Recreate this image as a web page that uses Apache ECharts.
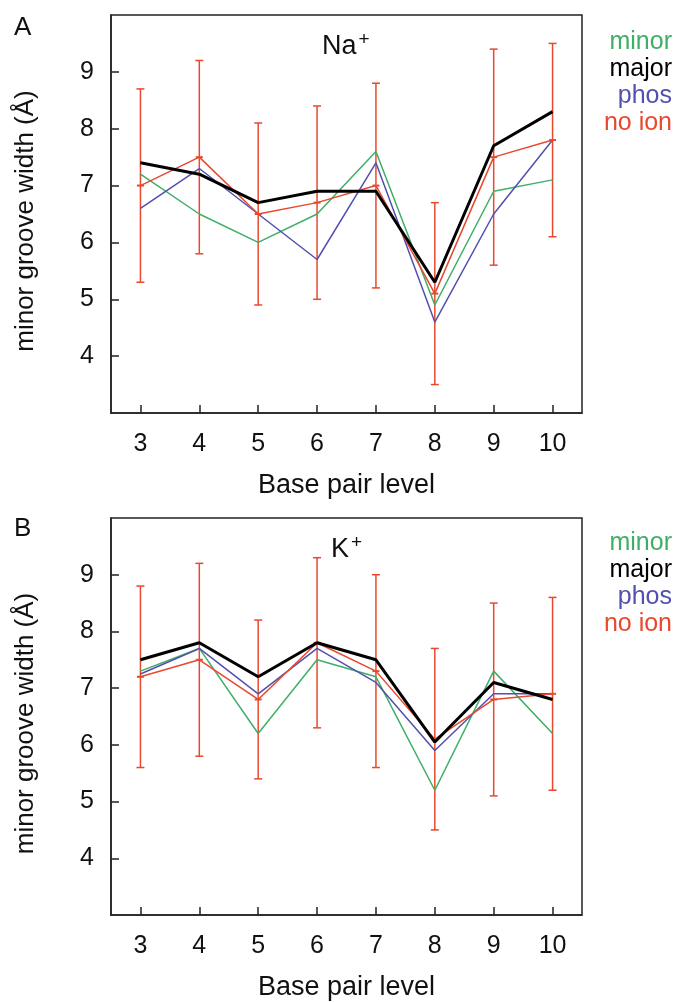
<!DOCTYPE html>
<html>
<head>
<meta charset="utf-8">
<script src="https://cdn.jsdelivr.net/npm/echarts@6/dist/echarts.min.js"></script>
<style>
  html, body { margin: 0; padding: 0; background: #fff; }
  #chart { width: 678px; height: 1002px; }
</style>
</head>
<body>
<div id="chart"></div>
<script>
// base pair levels on the x axis
const levels = ['3', '4', '5', '6', '7', '8', '9', '10'];

// Na+ panel
const naMinor = [7.2, 6.5, 6.0, 6.5, 7.6, 4.9, 6.9, 7.1];
const naMajor = [7.4, 7.2, 6.7, 6.9, 6.9, 5.3, 7.7, 8.3];
const naPhos  = [6.6, 7.3, 6.5, 5.7, 7.4, 4.6, 6.5, 7.8];
const naNoIon = [7.0, 7.5, 6.5, 6.7, 7.0, 5.1, 7.5, 7.8];
const naErr   = [1.7, 1.7, 1.6, 1.7, 1.8, 1.6, 1.9, 1.7];

// K+ panel
const kMinor = [7.3, 7.7, 6.2, 7.5, 7.2, 5.2, 7.3, 6.2];
const kMajor = [7.5, 7.8, 7.2, 7.8, 7.5, 6.05, 7.1, 6.8];
const kPhos  = [7.25, 7.7, 6.9, 7.7, 7.1, 5.9, 6.9, 6.9];
const kNoIon = [7.2, 7.5, 6.8, 7.8, 7.3, 6.1, 6.8, 6.9];
const kErr   = [1.6, 1.7, 1.4, 1.5, 1.7, 1.6, 1.7, 1.7];

const FONT = "'Liberation Sans', Arial, Helvetica, sans-serif";
const GREEN = '#3fae66', BLUE = '#5250ae', RED = '#e8492e', BLACK = '#000';

const chart = echarts.init(document.getElementById('chart'));

function xAxis(gi) {
  return {
    type: 'category', gridIndex: gi, data: levels, boundaryGap: true,
    axisLine: { show: true, lineStyle: { color: '#222', width: 1.5 } },
    axisTick: { show: true, inside: true, alignWithLabel: true, length: 8, lineStyle: { color: '#222', width: 1.5 } },
    axisLabel: { color: '#111', fontSize: 25, fontFamily: FONT, margin: 19 },
    name: 'Base pair level', nameLocation: 'middle', nameGap: 59,
    nameTextStyle: { color: '#111', fontSize: 27, fontFamily: FONT }
  };
}
function yAxis(gi) {
  return {
    type: 'value', gridIndex: gi, min: 3, max: 10, interval: 1,
    axisLine: { show: true, lineStyle: { color: '#222', width: 1.5 } },
    splitLine: { show: false },
    axisTick: { show: true, inside: true, length: 8, lineStyle: { color: '#222', width: 1.5 } },
    axisLabel: { color: '#111', fontSize: 25, fontFamily: FONT, margin: 17, showMinLabel: false, showMaxLabel: false },
    name: 'minor groove width (Å)', nameLocation: 'middle', nameGap: 72, nameRotate: 90,
    nameTextStyle: { color: '#111', fontSize: 26, fontFamily: FONT, padding: [0, 14, 0, 0] }
  };
}

function errorSeries(gi, mean, err) {
  return {
    type: 'custom', xAxisIndex: gi, yAxisIndex: gi, z: 1, silent: true,
    data: mean.map((m, i) => [i, m - err[i], m + err[i]]),
    renderItem: function (params, api) {
      const lo = api.coord([api.value(0), api.value(1)]);
      const hi = api.coord([api.value(0), api.value(2)]);
      const c = 4;
      const st = { stroke: RED, lineWidth: 1.5 };
      return {
        type: 'group',
        children: [
          { type: 'line', shape: { x1: lo[0], y1: lo[1], x2: hi[0], y2: hi[1] }, style: st },
          { type: 'line', shape: { x1: lo[0] - c, y1: lo[1], x2: lo[0] + c, y2: lo[1] }, style: st },
          { type: 'line', shape: { x1: hi[0] - c, y1: hi[1], x2: hi[0] + c, y2: hi[1] }, style: st }
        ]
      };
    }
  };
}

function line(gi, name, data, color, width, z, marks) {
  return {
    type: 'line', name: name, xAxisIndex: gi, yAxisIndex: gi, data: data, z: z,
    symbol: marks ? 'rect' : 'none', symbolSize: [7, 2], showSymbol: !!marks,
    itemStyle: { color: color },
    lineStyle: { color: color, width: width }, animation: false
  };
}

function panelSeries(gi, minor, major, phos, noion, err) {
  return [
    errorSeries(gi, noion, err),
    line(gi, 'minor', minor, GREEN, 1.5, 2),
    line(gi, 'phos', phos, BLUE, 1.5, 3),
    line(gi, 'no ion', noion, RED, 1.5, 4, true),
    line(gi, 'major', major, BLACK, 3, 5)
  ];
}

function legend(top) {
  return {
    orient: 'vertical', right: 1, top: top, align: 'right', icon: 'none',
    itemWidth: 0, itemHeight: 10, itemGap: 2, selectedMode: false, padding: 0,
    textStyle: { fontSize: 25, fontFamily: FONT, padding: 0 },
    data: [
      { name: 'minor', textStyle: { color: GREEN } },
      { name: 'major', textStyle: { color: BLACK } },
      { name: 'phos', textStyle: { color: BLUE } },
      { name: 'no ion', textStyle: { color: RED } }
    ]
  };
}

function titleRich(base, left, top) {
  return {
    text: '{a|' + base + '}{b|+}', left: left, top: top, padding: 0,
    textStyle: {
      fontWeight: 'normal',
      rich: {
        a: { fontSize: 27, fontFamily: FONT, color: '#111', fontWeight: 'normal' },
        b: { fontSize: 19, fontFamily: FONT, color: '#111', fontWeight: 'normal', verticalAlign: 'top', padding: [0, 0, 14, 2] }
      }
    }
  };
}

chart.setOption({
  animation: false,
  backgroundColor: '#fff',
  title: [titleRich('Na', 322, 30), titleRich('K', 331, 533)],
  legend: [legend(30), legend(531)],
  graphic: [
    { type: 'text', left: 14, top: 15, style: { text: 'A', fontSize: 26, fontFamily: FONT, fill: '#111' } },
    { type: 'text', left: 14, top: 516, style: { text: 'B', fontSize: 26, fontFamily: FONT, fill: '#111' } }
  ],
  grid: [
    { left: 111, top: 15, width: 471, height: 398, show: true, borderColor: '#222', borderWidth: 1.5 },
    { left: 111, top: 518, width: 471, height: 399, show: true, borderColor: '#222', borderWidth: 1.5 }
  ],
  xAxis: [xAxis(0), xAxis(1)],
  yAxis: [yAxis(0), yAxis(1)],
  series: panelSeries(0, naMinor, naMajor, naPhos, naNoIon, naErr)
    .concat(panelSeries(1, kMinor, kMajor, kPhos, kNoIon, kErr))
});
</script>
</body>
</html>
